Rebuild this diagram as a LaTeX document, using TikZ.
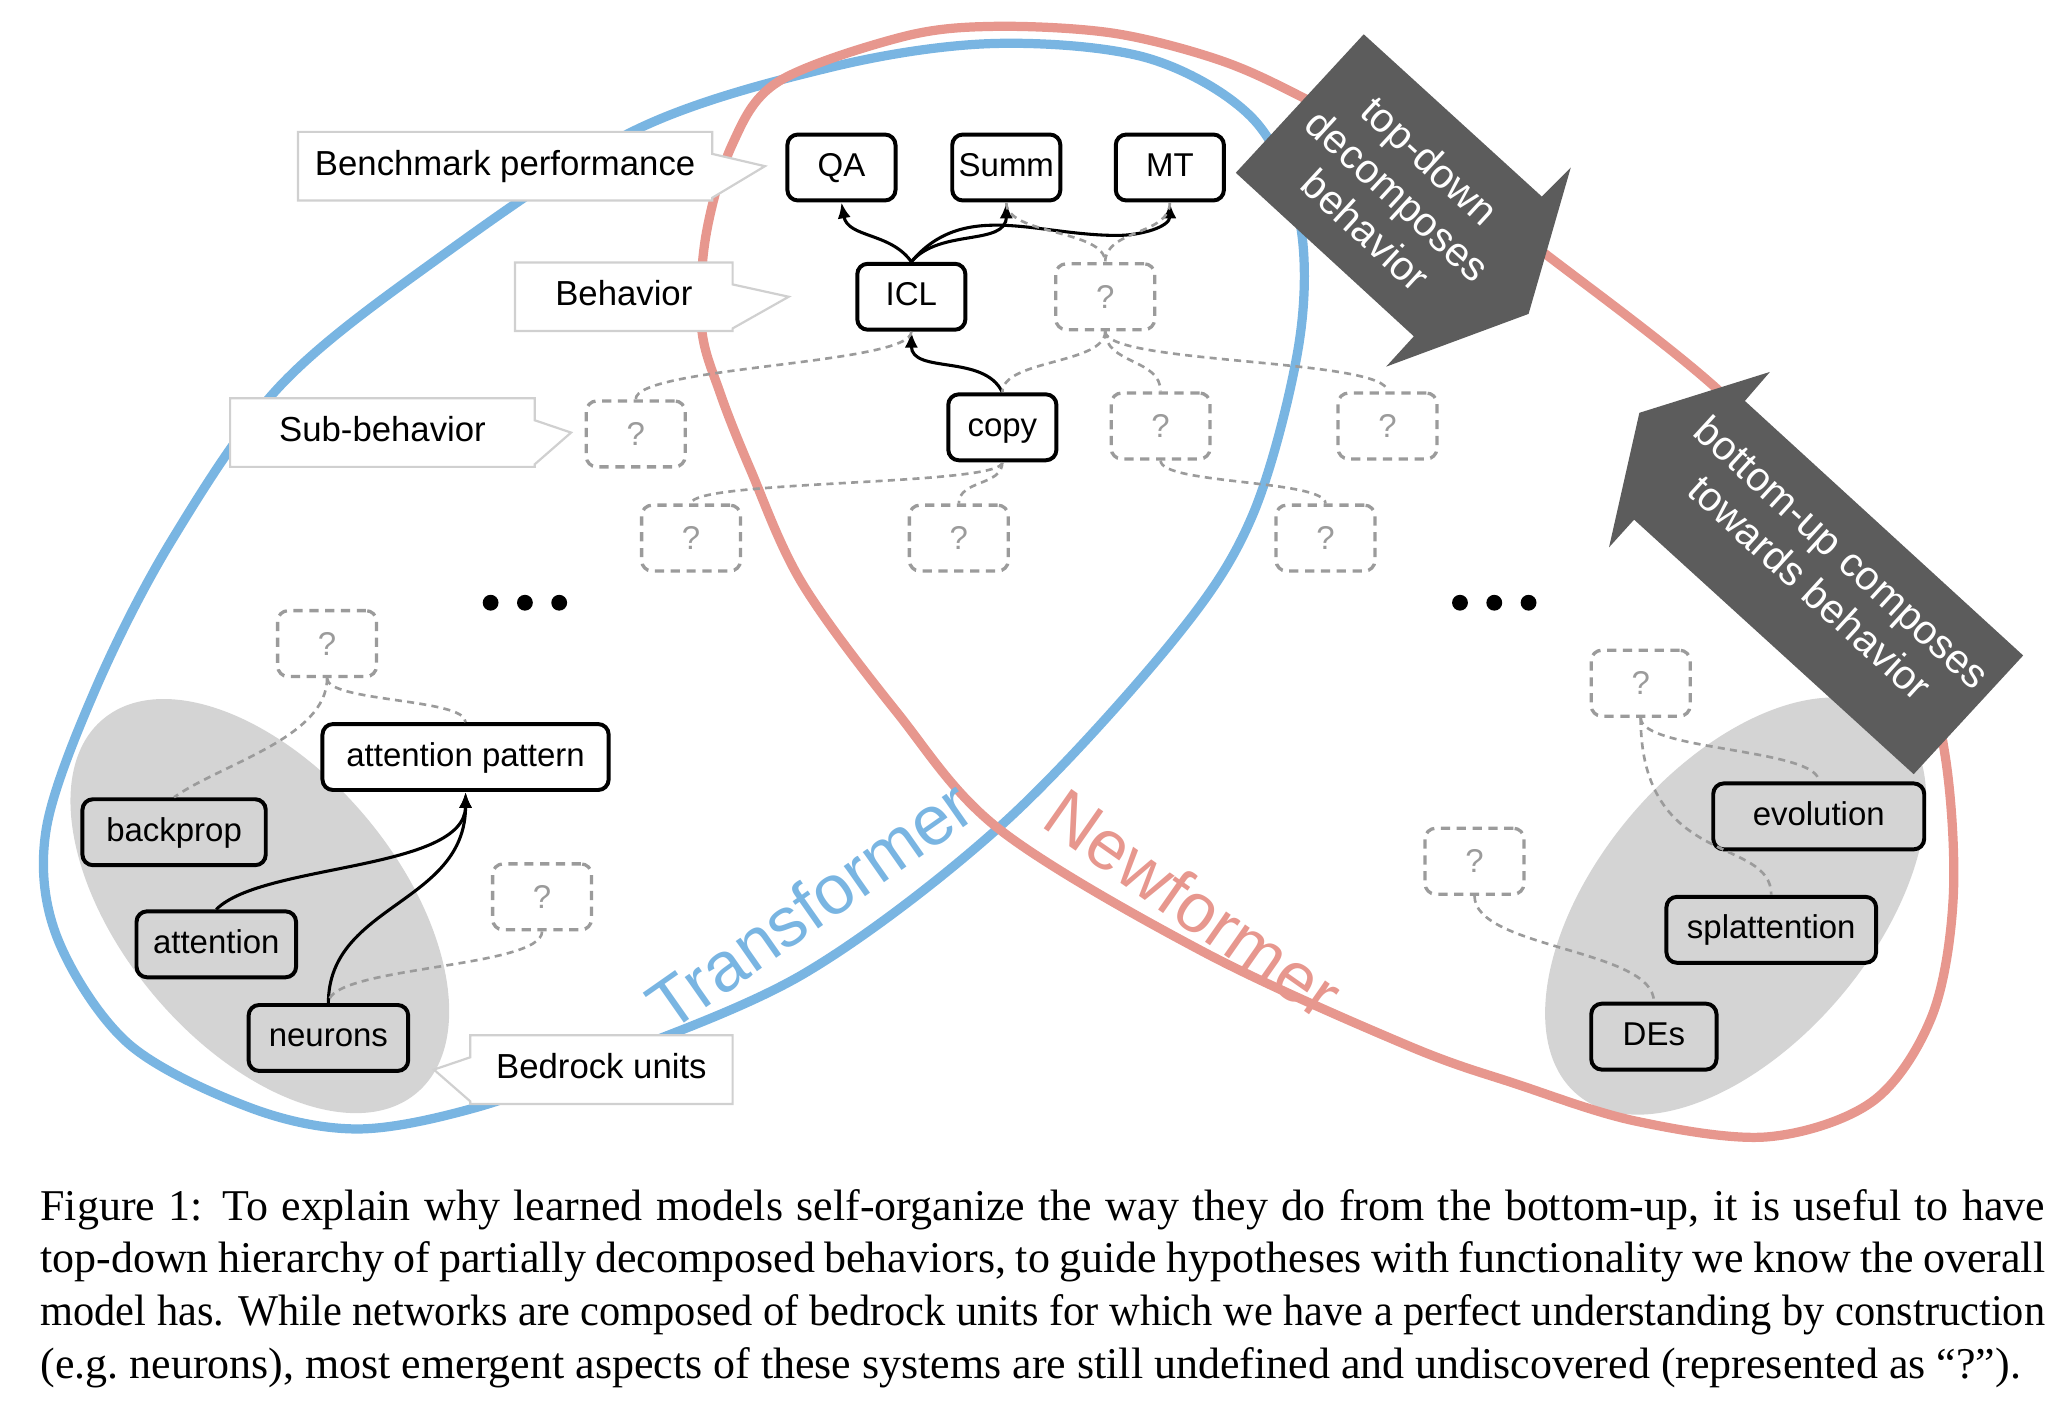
\documentclass[tikz,border=0pt]{standalone}
\usepackage{graphicx}
\usepackage{fontspec}
\setmainfont{Liberation Serif}
\setsansfont{Liberation Sans}
\usetikzlibrary{arrows.meta,positioning,calc,shapes.callouts}

\definecolor{tblue}{RGB}{121,181,226}
\definecolor{nred}{RGB}{231,151,142}
\definecolor{blobgray}{RGB}{212,212,212}
\definecolor{qgray}{RGB}{155,155,155}
\definecolor{darrow}{RGB}{92,92,92}
\definecolor{lblgray}{RGB}{208,208,208}

\begin{document}
\begin{tikzpicture}[
    x=0.3pt, y=0.3pt,
    font=\sffamily,
    bx/.style={rectangle, rounded corners=2.4pt, draw=black, line width=0.9pt,
      fill=white, minimum width=24.6pt, minimum height=15pt, inner xsep=1pt,
      text height=5.6pt, text depth=1.5pt,
      font=\sffamily\fontsize{7.5}{9}\selectfont},
    bxg/.style={bx, fill=blobgray},
    unk/.style={rectangle, rounded corners=2.4pt, draw=qgray, line width=0.75pt,
      dash pattern=on 2.1pt off 1.5pt, minimum width=22.5pt, minimum height=15pt,
      text=qgray, font=\sffamily\fontsize{7.5}{9}\selectfont},
    lbl/.style={rectangle callout, draw=lblgray, fill=white, line width=0.5pt,
      minimum height=15.6pt, callout pointer width=10pt,
      text height=5.8pt, text depth=1.6pt,
      font=\sffamily\fontsize{7.9}{9}\selectfont},
    arr/.style={-{Latex[length=3.6pt,width=3pt]}, line width=0.7pt},
    dl/.style={draw=qgray, line width=0.6pt, dash pattern=on 1.6pt off 1.2pt},
    sb/.style={to path={.. controls +(0,-#1) and +(0,#1) .. (\tikztotarget)}},
    sb/.default=25,
    loopline/.style={line width=2.1pt},
    bigarrow/.style={fill=darrow},
    arrtext/.style={text=white, align=center,
      font=\sffamily\fontsize{9.3}{10.8}\selectfont},
    mname/.style={font=\sffamily\fontsize{15.9}{18}\selectfont}
  ]
    \useasboundingbox (0,0) rectangle (1568,-1074);

    % bedrock blobs
    \fill[blobgray, rotate around={-50:(197,-687)}] (197,-687) ellipse (55.5pt and 31.5pt);
    \fill[blobgray, rotate around={50:(1316,-687)}] (1316,-687) ellipse (56pt and 31.5pt);

    % model outlines
    \draw[loopline, tblue] plot[smooth cycle, tension=0.55] coordinates {
      (753,-33) (870,-44) (950,-90) (985,-165) (985,-260) (950,-390) (890,-485)
      (760,-625) (610,-738) (455,-805) (360,-840) (271,-856) (190,-840) (97,-791)
      (43,-710) (35,-629) (73,-521) (130,-410) (212,-293) (328,-199) (481,-99) (630,-51)};
    \draw[loopline, nred] plot[smooth cycle, tension=0.55] coordinates {
      (753,-20) (843,-25) (923,-45) (986,-73) (1080,-125) (1171,-192) (1302,-295)
      (1395,-395) (1450,-480) (1475,-574) (1481,-680) (1465,-770) (1420,-835)
      (1340,-862) (1240,-850) (1150,-822) (1068,-793) (913,-722) (758,-629) (680,-540)
      (608,-442) (569,-356) (546,-298) (532,-249) (535,-180) (555,-110) (590,-62) (684,-28)};

    \node[mname, text=tblue, rotate=35] (tname) at (614,-686) {Transformer};
    \node[mname, text=nred, rotate=-35] (nname) at (905,-685) {Newformer};

    % direction arrows
    \fill[bigarrow] (1034,-26) -- (1169,-149) -- (1191,-127) -- (1159,-238)
      -- (1051,-278) -- (1072,-255) -- (937,-131) -- cycle;
    \node[arrtext, rotate=-42.6] (tdtext) at (1060,-148) {top-down\\decomposes\\behavior};
    \fill[bigarrow] (1243,-313) -- (1342,-282) -- (1323,-304) -- (1534,-497)
      -- (1451,-587) -- (1239,-394) -- (1220,-415) -- cycle;
    \node[arrtext, rotate=-42.4] (butext) at (1385,-432) {bottom-up composes\\towards behavior};

    % level labels
    \node[lbl, minimum width=94.2pt, callout absolute pointer={(580,-126)}] (lbench) at (383,-126) {Benchmark performance};
    \node[lbl, minimum width=49.5pt, callout absolute pointer={(598,-225)}] (lbehav) at (473,-225) {Behavior};
    \node[lbl, minimum width=69.3pt, callout absolute pointer={(433,-328)}] (lsub) at (290,-328) {Sub-behavior};
    \node[lbl, minimum width=59.7pt, callout absolute pointer={(329,-811)}] (lbed) at (456,-811) {Bedrock units};

    % known units
    \node[bx] (QA) at (638,-127) {QA};
    \node[bx, right=12pt of QA] (Summ) {Summ};
    \node[bx, right=11.7pt of Summ] (MT) {MT};
    \node[bx] (ICL) at (691,-225) {ICL};
    \node[bx] (copy) at (760,-324) {copy};
    \node[bx, minimum width=65.1pt] (AP) at (353,-574) {attention pattern};
    \node[bxg, minimum width=41.7pt] (backprop) at (132,-631) {backprop};
    \node[bxg, minimum width=36.3pt] (attention) at (164,-716) {attention};
    \node[bxg, minimum width=36.3pt] (neurons) at (249,-787) {neurons};
    \node[bxg, minimum width=48pt] (evolution) at (1379,-619) {evolution};
    \node[bxg, minimum width=47.7pt] (splattention) at (1343,-705) {splattention};
    \node[bxg, minimum width=28.5pt] (DEs) at (1254,-786) {DEs};

    % unknown units
    \node[unk] (u1) at (838,-225) {?};
    \node[unk] (u2) at (482,-329) {?};
    \node[unk] (u3) at (880,-323) {?};
    \node[unk] (u4) at (1052,-323) {?};
    \node[unk] (u5) at (524,-408) {?};
    \node[unk] (u6) at (727,-408) {?};
    \node[unk] (u7) at (1005,-408) {?};
    \node[unk] (u8) at (248,-488) {?};
    \node[unk] (u9) at (411,-680) {?};
    \node[unk] (u10) at (1244,-518) {?};
    \node[unk] (u11) at (1118,-653) {?};

    \foreach \dx in {-26,0,26} {
      \fill (398+\dx,-457) circle (1.8pt);
      \fill (1133+\dx,-457) circle (1.8pt);
    }

    % known links
    \draw[arr] (ICL.north) to[out=125,in=-80] (QA.south);
    \draw[arr] (ICL.north) to[out=50,in=-90] (Summ.south);
    \draw[arr] (ICL.north) to[out=50,in=180] ($(MT.south)+(-40,-25)$) to[out=0,in=-90] (MT.south);
    \draw[arr] (copy.north) to[out=115,in=-90] (ICL.south);
    \draw[arr] (attention.north) .. controls +(35,35) and +(0,-60) .. (AP.south);
    \draw[arr] (neurons.north) .. controls +(0,75) and +(0,-85) .. (AP.south);

    % unknown links
    \draw[dl] (Summ.south) to[sb] (u1.north);
    \draw[dl] (MT.south) to[sb] (u1.north);
    \draw[dl] (u1.south) to[sb] (copy.north);
    \draw[dl] (u1.south) to[sb] (u3.north);
    \draw[dl] (u1.south) to[sb] (u4.north);
    \draw[dl] (ICL.south) to[sb] (u2.north);
    \draw[dl] (copy.south) to[sb=18] (u5.north);
    \draw[dl] (copy.south) to[sb=18] (u6.north);
    \draw[dl] (u3.south) to[sb=18] (u7.north);
    \draw[dl] (u8.south) to[sb=18] (AP.north);
    \draw[dl] (u8.south) .. controls +(0,-45) and +(35,25) .. (backprop.north);
    \draw[dl] (u9.south) to[sb=28] (neurons.north);
    \draw[dl] (u10.south) to[sb] (evolution.north);
    \draw[dl] (u10.south) .. controls +(0,-115) and +(0,45) .. (splattention.north);
    \draw[dl] (u11.south) to[sb=40] (DEs.north);

    % caption
    \node[anchor=north west, inner sep=0pt, text width=456pt,
      font=\rmfamily\fontsize{10}{12}\selectfont] (cap) at (30,-901) {%
      \spaceskip=0pt \xspaceskip=0pt
      \hbox to 456pt{Figure 1: To explain why learned models self-organize the way they do from the bottom-up, it is useful to have}
      \hbox to 456pt{top-down hierarchy of partially decomposed behaviors, to guide hypotheses with functionality we know the overall}
      \resizebox{456pt}{\height}{model has. While networks are composed of bedrock units for which we have a perfect understanding by construction}
      \hbox{(e.g.\ neurons), most emergent aspects of these systems are still undefined and undiscovered (represented as “?”).}};
\end{tikzpicture}
\end{document}
